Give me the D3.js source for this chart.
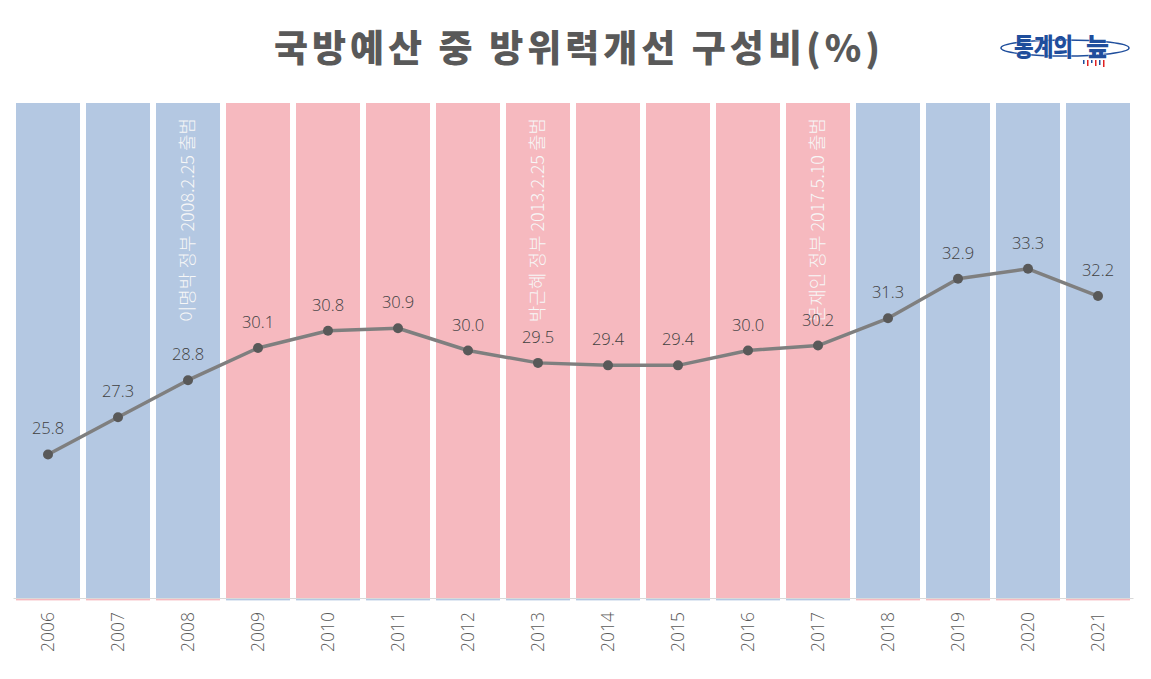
<!DOCTYPE html>
<html><head><meta charset="utf-8">
<script src="https://cdn.jsdelivr.net/npm/d3@7"></script>
<style>html,body{margin:0;padding:0;background:#fff;}svg{display:block;}</style>
</head><body>
<svg id="c" width="1151" height="679"></svg>
<script>
const years = ["2006","2007","2008","2009","2010","2011","2012","2013","2014","2015","2016","2017","2018","2019","2020","2021"];
const ratio = [25.8,27.3,28.8,30.1,30.8,30.9,30.0,29.5,29.4,29.4,30.0,30.2,31.3,32.9,33.3,32.2];
const party = ["blue","blue","blue","pink","pink","pink","pink","pink","pink","pink","pink","pink","blue","blue","blue","blue"];
const notes = [
  {year:"2008", text:"이명박 정부 2008.2.25 출범"},
  {year:"2013", text:"박근혜 정부 2013.2.25 출범"},
  {year:"2017", text:"문재인 정부 2017.5.10 출범"}
];
const title = "국방예산 중 방위력개선 구성비(%)";
const colors = {blue:"#b4c8e2", pink:"#f6b9bf"};
const other = {blue:"pink", pink:"blue"};

const svg = d3.select("#c");
const x = d3.scaleBand().domain(years).range([13,1133]).paddingInner(0.086).paddingOuter(0.043);
const y = d3.scaleLinear().domain([20,40]).range([598,103]);

// background bars
svg.append("g").selectAll("rect").data(years).join("rect")
  .attr("x", d=>x(d)).attr("width", x.bandwidth())
  .attr("y", y(40)).attr("height", y(20)-y(40))
  .attr("fill", (d,i)=>colors[party[i]]);
// thin second-series slivers under the axis
svg.append("g").selectAll("rect").data(years).join("rect")
  .attr("x", d=>x(d)).attr("width", x.bandwidth())
  .attr("y", y(20)+0.8).attr("height", 1.6)
  .attr("fill", (d,i)=>colors[other[party[i]]]);

// axis
const ax = svg.append("g").attr("transform",`translate(0,${y(20)})`)
  .call(d3.axisBottom(x).tickSize(0).tickPadding(0));
ax.select(".domain").attr("stroke","#d9d9d9").attr("stroke-width",1.2);
ax.selectAll(".tick text")
  .attr("transform","rotate(-90)")
  .attr("x",-14).attr("y",0).attr("dy","0.35em")
  .style("text-anchor","end")
  .attr("fill","#595959")
  .style("font-family","'Open Sans','Noto Sans',sans-serif").style("font-weight","300").style("font-size","17.5px");

// annotations
svg.append("g").selectAll("text").data(notes).join("text")
  .attr("transform", d=>`translate(${x(d.year)+x.bandwidth()/2},${y(40)+15}) rotate(-90)`)
  .attr("dy","0.35em")
  .style("text-anchor","end")
  .attr("fill","#f7f7f7")
  .style("font-family","'Noto Sans CJK KR','Open Sans',sans-serif").style("font-weight","300").style("font-size","18px")
  .text(d=>d.text);

// line
const cx = d=>x(d)+x.bandwidth()/2;
const line = d3.line().x((d,i)=>cx(years[i])).y(d=>y(d));
svg.append("path").datum(ratio).attr("d",line)
  .attr("fill","none").attr("stroke","#7f7f7f").attr("stroke-width",3.5).attr("stroke-linejoin","round");
svg.append("g").selectAll("circle").data(ratio).join("circle")
  .attr("cx",(d,i)=>cx(years[i])).attr("cy",d=>y(d)).attr("r",5)
  .attr("fill","#595959");
svg.append("g").selectAll("text").data(ratio).join("text")
  .attr("x",(d,i)=>cx(years[i])).attr("y",d=>y(d)-20)
  .attr("text-anchor","middle")
  .attr("fill","#404040")
  .style("font-family","'Open Sans','Noto Sans',sans-serif").style("font-weight","300").style("font-size","16.5px")
  .text(d=>d.toFixed(1));

// title
svg.append("text").attr("x",579).attr("y",62).attr("text-anchor","middle")
  .attr("fill","#595959")
  .style("font-family","'Noto Sans CJK KR',sans-serif").style("font-weight","900").style("font-size","37px")
  .style("letter-spacing","4px")
  .text(title);

// logo
const lg = svg.append("g");
lg.append("ellipse").attr("cx",1065).attr("cy",48).attr("rx",64).attr("ry",8)
  .attr("fill","none").attr("stroke","#1f4e9c").attr("stroke-width",1.5);
const logoParts = [{t:"통계의", x:1014, w:59}, {t:"늪", x:1086, w:23}];
lg.selectAll("text").data(logoParts).join("text")
  .attr("x",d=>d.x).attr("y",56)
  .attr("textLength",d=>d.w).attr("lengthAdjust","spacingAndGlyphs")
  .attr("fill","#1f4e9c").style("font-family","'Noto Sans CJK KR',sans-serif")
  .style("font-weight","900").style("font-size","25px")
  .attr("stroke","#fff").attr("stroke-width",0.6).attr("paint-order","stroke")
  .text(d=>d.t);
const sb = [[1083,4,"#1f4e9c"],[1087,6,"#e02020"],[1091,3,"#1f4e9c"],[1095,6,"#e02020"],[1099,5,"#1f4e9c"],[1103,7,"#e02020"]];
lg.selectAll("rect.sb").data(sb).join("rect").attr("class","sb")
  .attr("x",d=>d[0]).attr("y",60).attr("width",1.5).attr("height",d=>d[1]).attr("fill",d=>d[2]);
</script>
</body></html>
